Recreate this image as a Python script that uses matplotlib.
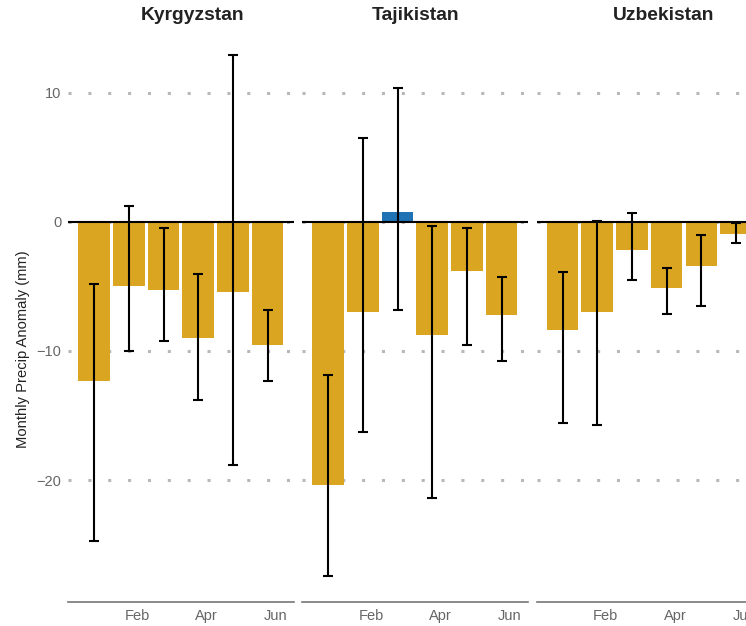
import matplotlib.pyplot as plt

plt.rcParams['font.family'] = ['Liberation Sans', 'DejaVu Sans']

countries = ['Kyrgyzstan', 'Tajikistan', 'Uzbekistan']
months = ['Jan', 'Feb', 'Mar', 'Apr', 'May', 'Jun']

# monthly precip anomaly (mm)
kgz_vals = [-12.3, -5.0, -5.3, -9.0, -5.4, -9.5]
kgz_lo = [-24.7, -10.0, -9.2, -13.8, -18.8, -12.3]
kgz_hi = [-4.8, 1.2, -0.5, -4.0, 12.9, -6.8]

tjk_vals = [-20.4, -7.0, 0.8, -8.8, -3.8, -7.2]
tjk_lo = [-27.4, -16.3, -6.8, -21.4, -9.5, -10.8]
tjk_hi = [-11.9, 6.5, 10.4, -0.3, -0.5, -4.3]

uzb_vals = [-8.4, -7.0, -2.2, -5.1, -3.4, -0.9]
uzb_lo = [-15.6, -15.7, -4.5, -7.1, -6.5, -1.6]
uzb_hi = [-3.9, 0.1, 0.7, -3.6, -1.0, -0.05]

vals = [kgz_vals, tjk_vals, uzb_vals]
lows = [kgz_lo, tjk_lo, uzb_lo]
highs = [kgz_hi, tjk_hi, uzb_hi]

gold = '#DAA520'
blue = '#1F72B4'

W, H = 746, 626
fig = plt.figure(figsize=(W / 100, H / 100), dpi=100)

panel_left = [68.3, 302.3, 536.7]
title_x = [193, 415.7, 664]
x = list(range(6))

for k in range(3):
    ax = fig.add_axes([panel_left[k] / W, 24.3 / H, 225.5 / W, 561.7 / H])
    ax.set_xlim(-0.746, 5.754)
    ax.set_ylim(-29.43, 14.1)

    for g in [10, 0, -10, -20]:
        ax.axhline(g, color='#b8b8b8', lw=2.2, linestyle=(0, (1, 5.5)), zorder=0)

    cols = [gold if v < 0 else blue for v in vals[k]]
    ax.bar(x, vals[k], width=0.91, color=cols, zorder=2)
    ax.axhline(0, color='black', lw=1.5, zorder=3)

    lo = lows[k]
    hi = highs[k]
    mid = [(a + b) / 2 for a, b in zip(lo, hi)]
    half = [(b - a) / 2 for a, b in zip(lo, hi)]
    ax.errorbar(x, mid, yerr=half, fmt='none', ecolor='black', elinewidth=1.5,
                capsize=3.3, capthick=1.5, zorder=4)

    for s in ['top', 'right', 'left']:
        ax.spines[s].set_visible(False)
    ax.spines['bottom'].set_color('#777777')
    ax.spines['bottom'].set_linewidth(1.2)

    ax.set_xticks([1.24, 3.24, 5.24])
    ax.set_xticklabels(['Feb', 'Apr', 'Jun'])
    ax.set_yticks([10, 0, -10, -20])
    ax.tick_params(length=0, labelsize=10.5, colors='#666666', pad=5)
    if k > 0:
        ax.set_yticklabels([])
    ax.patch.set_alpha(0)

    fig.text(title_x[k] / W, 1 - 15 / H, countries[k], ha='center', va='center',
             fontsize=13.9, fontweight='bold', color='#222222')

fig.text(23 / W, 1 - 448 / H, 'Monthly Precip Anomaly (mm)', rotation=90,
         ha='center', va='bottom', fontsize=10.6, color='#222222')

fig.savefig('out.png', dpi=100)
